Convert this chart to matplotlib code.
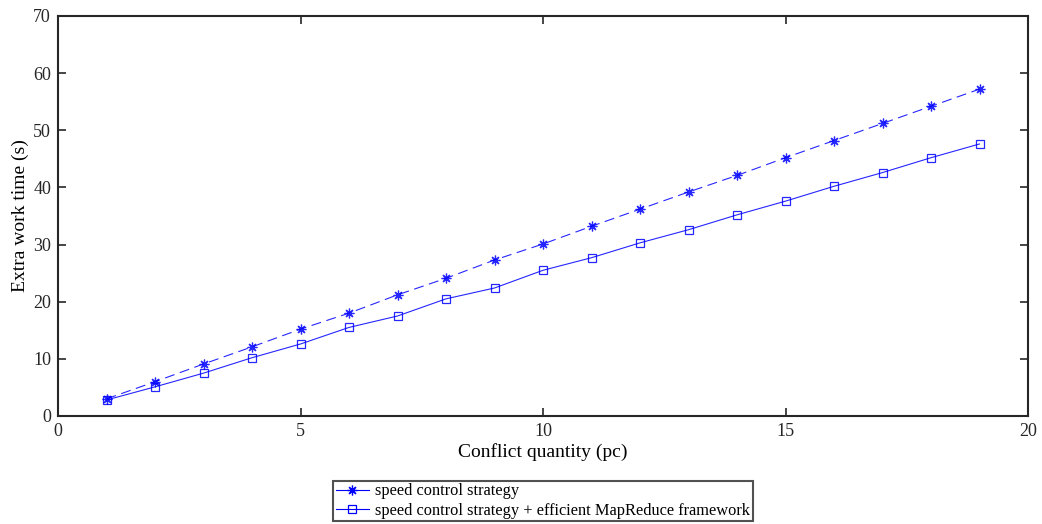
import matplotlib
matplotlib.use("Agg")
import matplotlib.pyplot as plt
from matplotlib.lines import Line2D

x = list(range(1, 20))
speed_control = [3.0, 6.0, 9.1, 12.1, 15.2, 18.0, 21.2, 24.1, 27.3, 30.1,
                 33.2, 36.2, 39.2, 42.1, 45.2, 48.2, 51.2, 54.2, 57.2]
speed_mapreduce = [2.8, 5.1, 7.5, 10.2, 12.6, 15.5, 17.5, 20.5, 22.4, 25.5,
                   27.7, 30.3, 32.6, 35.2, 37.6, 40.2, 42.6, 45.2, 47.6]
labels = ["speed control strategy",
          "speed control strategy + efficient MapReduce framework"]

plt.rcParams['font.family'] = ['Liberation Serif', 'DejaVu Serif']

fig = plt.figure(figsize=(10.42, 5.24), dpi=100)
ax = fig.add_axes([58/1042, 1-416/524, (1028-58)/1042, (416-16)/524])

star = (8, 2, 0)
ax.plot(x, speed_control, color='#0000ff', linestyle=(0, (9, 5)), linewidth=0.8,
        marker=star, markersize=7, markeredgewidth=0.9, alpha=0.85)
ax.plot(x, speed_mapreduce, color='#0000ff', linestyle='-', linewidth=0.8,
        marker='s', markersize=6, markerfacecolor='none', markeredgewidth=0.9,
        alpha=0.85)

ax.set_xlim(0, 20)
ax.set_ylim(0, 70)
ax.set_xticks([0, 5, 10, 15, 20])
ax.set_yticks(range(0, 71, 10))
ax.tick_params(direction='in', length=6, width=1.2, top=True, right=True,
               labelsize=13, colors='#262626', pad=5)
for s in ax.spines.values():
    s.set_linewidth(1.5)
    s.set_color('#262626')
ax.set_xlabel("Conflict quantity (pc)", fontsize=14, labelpad=2)
ax.set_ylabel("Extra work time (s)", fontsize=14, labelpad=3)

handles = [
    Line2D([], [], color='#0000ff', linestyle='-', linewidth=0.8, marker=star,
           markersize=7, markeredgewidth=0.9),
    Line2D([], [], color='#0000ff', linestyle='-', linewidth=0.8, marker='s',
           markersize=6, markerfacecolor='none', markeredgewidth=0.9),
]
leg = fig.legend(handles, labels, loc='upper center', bbox_to_anchor=(543/1042, 1-481/524),
                 fontsize=11.8, frameon=True, fancybox=False, edgecolor='#262626',
                 borderpad=0.15, labelspacing=0.2, handlelength=2.0,
                 handletextpad=0.4, borderaxespad=0)
leg.get_frame().set_linewidth(1.5)

fig.savefig("out.png", dpi=100)
